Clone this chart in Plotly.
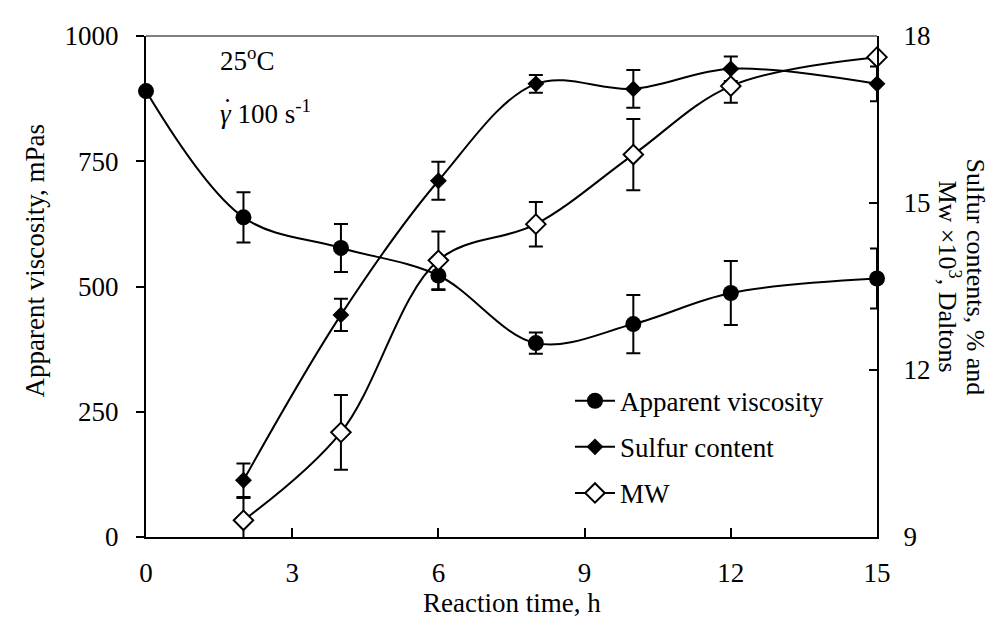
import plotly.graph_objects as go

# ---- data ----
time_visc = [0, 2, 4, 6, 8, 10, 12, 15]
viscosity = [890, 638, 577, 522, 387, 425, 487, 516]
viscosity_err = [0, 50, 48, 29, 21, 58, 64, 60]

time_s = [2, 4, 6, 8, 10, 12, 15]
sulfur = [10.02, 12.99, 15.40, 17.14, 17.05, 17.41, 17.14]
sulfur_err = [0.30, 0.29, 0.34, 0.16, 0.34, 0.22, 0.31]

mw = [9.30, 10.88, 13.97, 14.62, 15.87, 17.10, 17.62]
mw_err = [0.40, 0.67, 0.52, 0.40, 0.64, 0.30, 0.0]

x_ticks = [0, 3, 6, 9, 12, 15]
y_ticks = [0, 250, 500, 750, 1000]
y2_ticks = [9, 12, 15, 18]

FONT = "Liberation Serif, Times New Roman, serif"
FS = 27
BLACK = "black"

fig = go.Figure()

eb = dict(type="data", visible=True, color=BLACK, thickness=2, width=7)

fig.add_trace(go.Scatter(
    x=time_visc, y=viscosity, name="Apparent viscosity", mode="lines+markers",
    line=dict(color=BLACK, width=2, shape="spline", smoothing=1.0),
    marker=dict(symbol="circle", size=16, color=BLACK),
    error_y=dict(array=viscosity_err, **eb), cliponaxis=False,
    legendgroup="a", yaxis="y"))

fig.add_trace(go.Scatter(
    x=time_s, y=sulfur, name="Sulfur content", mode="lines+markers",
    line=dict(color=BLACK, width=2, shape="spline", smoothing=1.0),
    marker=dict(symbol="diamond", size=13, color=BLACK),
    error_y=dict(array=sulfur_err, **eb), cliponaxis=False,
    legendgroup="b", yaxis="y2"))

fig.add_trace(go.Scatter(
    x=time_s, y=mw, name="MW", mode="lines+markers",
    line=dict(color=BLACK, width=2, shape="spline", smoothing=1.0),
    marker=dict(symbol="diamond", size=15, color="white", line=dict(color=BLACK, width=2)),
    error_y=dict(array=mw_err, **eb), cliponaxis=False,
    legendgroup="c", yaxis="y2"))

fig.update_layout(
    width=995, height=619,
    margin=dict(l=138, r=126, t=28, b=90),
    paper_bgcolor="white", plot_bgcolor="white",
    font=dict(family=FONT, size=FS, color=BLACK),
    showlegend=True,
    legend=dict(x=0.58, y=0.32, xanchor="left", yanchor="top",
                bgcolor="rgba(0,0,0,0)", font=dict(size=FS),
                tracegroupgap=8, traceorder="grouped", itemwidth=40),
    xaxis=dict(range=[0, 15], tickvals=x_ticks, ticks="inside", ticklen=9,
               tickwidth=2, tickcolor=BLACK, showline=True, linewidth=2,
               linecolor=BLACK, showgrid=False, zeroline=False,
               ticklabelstandoff=11),
    yaxis=dict(range=[0, 1000], tickvals=y_ticks, ticks="outside", ticklen=8,
               tickwidth=2, tickcolor=BLACK, showline=True, linewidth=2,
               linecolor=BLACK, showgrid=False, zeroline=False,
               ticklabelstandoff=12),
    yaxis2=dict(range=[9, 18], tickvals=y2_ticks, ticks="inside", ticklen=8,
                tickwidth=2, tickcolor=BLACK, showline=True, linewidth=2,
                linecolor=BLACK, showgrid=False, zeroline=False,
                overlaying="y", side="right", ticklabelstandoff=19),
)

# top border
fig.add_shape(type="line", xref="paper", yref="paper", x0=0, x1=1, y0=1, y1=1,
              line=dict(color=BLACK, width=1))

# axis titles
fig.add_annotation(text="Reaction time, h", xref="paper", yref="paper",
                   x=0.5, y=0, yshift=-66, xanchor="center", yanchor="middle",
                   showarrow=False, font=dict(size=FS))
fig.add_annotation(text="Apparent viscosity, mPas", xref="paper", yref="paper",
                   x=0, xshift=-111, y=0.55, xanchor="center", yanchor="middle",
                   textangle=-90, showarrow=False, font=dict(size=FS))
fig.add_annotation(text="Sulfur contents, % and",
                   xref="paper", yref="paper", x=1, xshift=99, y=0.52,
                   xanchor="center", yanchor="middle", borderpad=0,
                   textangle=90, showarrow=False, font=dict(size=26))
fig.add_annotation(text="Mw \u00d710<sup>3</sup>, Daltons",
                   xref="paper", yref="paper", x=1, xshift=72, y=0.52,
                   xanchor="center", yanchor="middle", borderpad=0,
                   textangle=90, showarrow=False, font=dict(size=26))

# condition labels
fig.add_annotation(text="25<sup>o</sup>C", xref="x", yref="y", x=1.48, y=954,
                   xanchor="left", showarrow=False, font=dict(size=FS))
fig.add_annotation(text="<i>\u03b3</i> 100 s<sup>-1</sup>", xref="x", yref="y",
                   x=1.48, y=848, xanchor="left", showarrow=False, font=dict(size=FS))
fig.add_annotation(text="\u02d9", xref="x", yref="y", x=1.48, y=848,
                   xanchor="center", xshift=9, yshift=4, showarrow=False,
                   font=dict(size=FS))

fig.write_html("out.html")
